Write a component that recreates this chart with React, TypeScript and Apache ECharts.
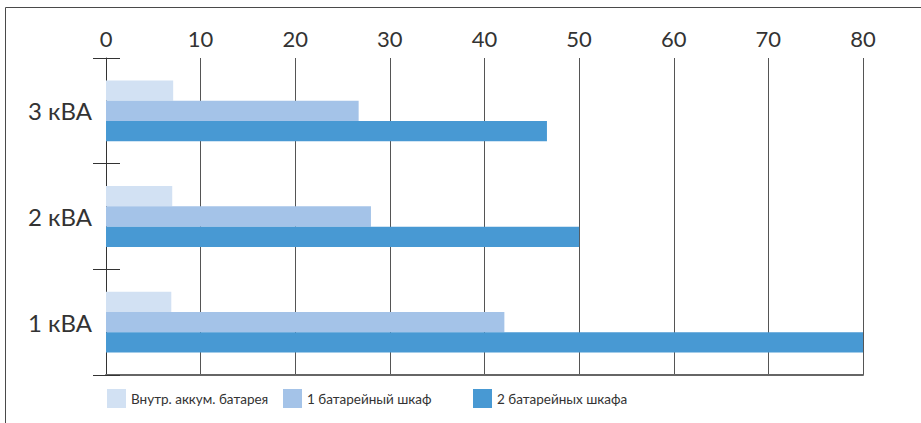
import React, { useEffect, useRef } from "react";
import * as echarts from "echarts";

const categories = ["1 кВА", "2 кВА", "3 кВА"];
const seriesNames = ["Внутр. аккум. батарея", "1 батарейный шкаф", "2 батарейных шкафа"];
const internalBattery = [6.9, 7.0, 7.1];
const oneCabinet = [42.1, 28.0, 26.7];
const twoCabinets = [80, 50, 46.6];
const colors = ["#d2e1f3", "#a4c3e8", "#4899d3"];
const xTicks = { min: 0, max: 80, interval: 10 };

export default function App() {
  const ref = useRef<HTMLDivElement>(null);
  useEffect(() => {
    if (!ref.current) return;
    const chart = echarts.init(ref.current, undefined, { renderer: "svg" });
    const font = "Lato, 'Open Sans', sans-serif";
    const values = [internalBattery, oneCabinet, twoCabinets];
    const legendLefts = [107, 283, 473];
    chart.setOption({
      animation: false,
      backgroundColor: "#ffffff",
      textStyle: { fontFamily: font },
      grid: { left: 106, right: 58, top: 58, bottom: 48, containLabel: false },
      legend: seriesNames.map((n, i) => ({
        data: [n],
        left: legendLefts[i],
        top: 389,
        itemWidth: 19,
        itemHeight: 19,
        icon: "rect",
        padding: 0,
        textStyle: { fontSize: 13.5, color: "#333", fontFamily: font, fontWeight: 400 },
      })),
      xAxis: [
        {
          type: "value",
          position: "top",
          min: xTicks.min,
          max: xTicks.max,
          interval: xTicks.interval,
          axisLine: { show: false },
          axisTick: { show: false },
          axisLabel: { fontSize: 22, color: "#333", margin: 9, fontFamily: font, fontWeight: 400 },
          splitLine: { show: true, lineStyle: { color: "#555", width: 1 } },
        },
        {
          type: "value",
          position: "bottom",
          min: xTicks.min,
          max: xTicks.max,
          interval: xTicks.interval,
          axisLine: { show: true, lineStyle: { color: "#666", width: 2 } },
          axisTick: { show: false },
          axisLabel: { show: false },
          splitLine: { show: false },
        },
      ],
      yAxis: [
        {
          type: "category",
          data: categories,
          axisLine: { show: true, lineStyle: { color: "#333", width: 1 } },
          axisTick: { show: true, length: 13, lineStyle: { color: "#333" } },
          axisLabel: { fontSize: 24, color: "#333", margin: 14, fontFamily: font, fontWeight: 400 },
        },
        {
          type: "category",
          data: categories,
          position: "left",
          axisLine: { show: false },
          axisTick: { show: true, inside: true, length: 14, lineStyle: { color: "#333" } },
          axisLabel: { show: false },
        },
      ],
      series: seriesNames.map((n, i) => ({
        name: n,
        type: "bar",
        data: values[i],
        barWidth: 20.3,
        barGap: "0%",
        itemStyle: { color: colors[i] },
        z: 3,
      })),
      graphic: [
        {
          type: "rect",
          shape: { x: 5.5, y: 7.5, width: 1000, height: 1000 },
          style: { fill: "none", stroke: "#4a4a4a", lineWidth: 1 },
          silent: true,
        },
      ],
    });
    return () => chart.dispose();
  }, []);
  return (
    <div
      ref={ref}
      style={{ position: "fixed", left: 0, top: 0, width: 921, height: 423 }}
    />
  );
}
